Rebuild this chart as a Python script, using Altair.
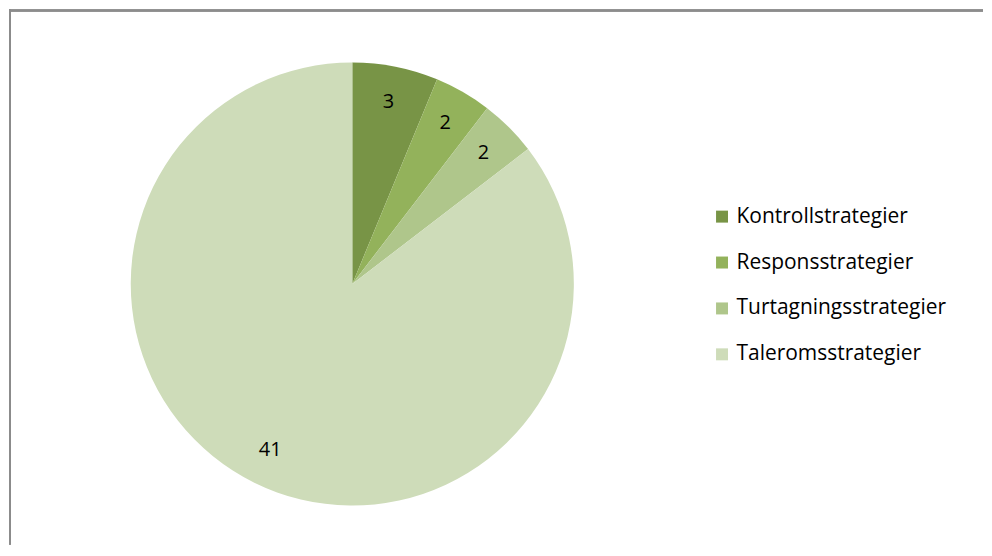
import altair as alt
import pandas as pd

categories = ["Kontrollstrategier", "Responsstrategier", "Turtagningsstrategier", "Taleromsstrategier"]
values = [3, 2, 2, 41]
colors = ["#789446", "#93B25B", "#AFC68B", "#CEDCB9"]

df = pd.DataFrame({"category": categories, "value": values, "order": list(range(len(values)))})

CX, CY, R = 344, 275, 222
FONT = "Open Sans"

color = alt.Color(
    "category:N",
    scale=alt.Scale(domain=categories, range=colors),
    sort=categories,
    legend=alt.Legend(
        title=None, orient="none", legendX=704, legendY=197,
        symbolType="square", symbolSize=144, symbolStrokeWidth=0,
        labelFontSize=21, labelFont=FONT, labelColor="#000000",
        labelLimit=400, rowPadding=24, labelOffset=4, padding=0,
    ),
)

base = alt.Chart(df).encode(
    theta=alt.Theta("value:Q", stack=True),
    order=alt.Order("order:Q"),
)

arcs = base.mark_arc(radius=R, stroke=None).encode(
    color=color, x=alt.value(CX), y=alt.value(CY)
)

labels = base.mark_text(radius=186, fontSize=20, font=FONT, color="#000000").encode(
    text="value:Q", x=alt.value(CX), y=alt.value(CY)
)

frame_top = alt.Chart(df).mark_rule(color="#8c8c8c", strokeWidth=2).encode(
    x=alt.value(0), x2=alt.value(976), y=alt.value(1)
)
frame_left = alt.Chart(df).mark_rule(color="#8c8c8c", strokeWidth=2).encode(
    x=alt.value(1), y=alt.value(0), y2=alt.value(536)
)

chart = alt.layer(frame_top, frame_left, arcs, labels).properties(
    width=968, height=536, padding=0
).configure_view(stroke=None)

chart.save("out.html", embed_options={"renderer": "svg", "actions": False})
